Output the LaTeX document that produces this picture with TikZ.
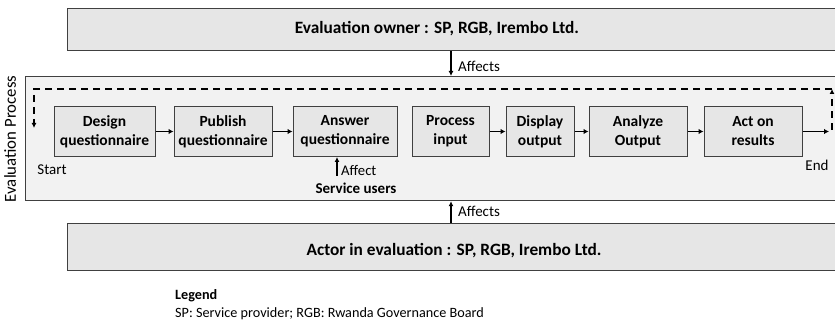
\documentclass[tikz,border=0pt]{standalone}
\usepackage{fontspec}
\setmainfont{Carlito}
\usetikzlibrary{arrows.meta}
\definecolor{boxfill}{HTML}{E6E6E6}
\definecolor{panelfill}{HTML}{F2F2F2}
\definecolor{edge}{HTML}{404040}

\begin{document}
\begin{tikzpicture}[x=1pt,y=-1pt,
  stepbox/.style={draw=edge, line width=1pt, fill=boxfill, align=center,
    font=\fontsize{15.5}{19}\selectfont\bfseries, inner sep=0pt, minimum height=50},
  band/.style={draw=edge, line width=1.2pt, fill=boxfill, inner sep=0pt, anchor=north west},
  panel/.style={draw=edge, line width=1.2pt, fill=panelfill, inner sep=0pt, anchor=north west},
  flow/.style={line width=1.8pt, -{Latex[length=5pt,width=5.5pt]}},
  influence/.style={line width=1.5pt, -{Latex[length=5pt,width=5pt]}},
  loopline/.style={line width=1.8pt, dash pattern=on 7pt off 5pt},
  bandtext/.style={font=\fontsize{17.3}{20}\selectfont\bfseries},
  small/.style={font=\fontsize{15}{18}\selectfont, inner sep=0pt},
]
\useasboundingbox (0,0) rectangle (835,323);

% upper band: owner
\node[band, minimum width=790, minimum height=42] (owner) at (67,8) {};
\node[bandtext] (ownerlbl) at (437,29) {Evaluation owner : SP, RGB, Irembo Ltd.};

% process panel
\node[panel, minimum width=830, minimum height=124] (proc) at (25,76) {};
\node[rotate=90, font=\fontsize{16.8}{20}\selectfont] (ptitle) at (10,139) {Evaluation Process};

% lower band: actor
\node[band, minimum width=790, minimum height=47] (actor) at (67,223) {};
\node[bandtext] (actorlbl) at (454,251) {Actor in evaluation : SP, RGB, Irembo Ltd.};

% influence arrows between bands and panel
\coordinate (ax) at (451,0);
\draw[influence] (owner.south -| ax) -- (proc.north -| ax);
\node[small, anchor=west] (aff1) at (458,66) {Affects};
\draw[influence] (actor.north -| ax) -- (proc.south -| ax);
\node[small, anchor=west] (aff2) at (458,211) {Affects};

% process steps
\node[stepbox, minimum width=101] (design)  at (104.5,131.5) {Design\\questionnaire};
\node[stepbox, minimum width=98]  (publish) at (223,131.5)   {Publish\\questionnaire};
\node[stepbox, minimum width=104] (answer)  at (345,131.5)   {Answer\\questionnaire};
\node[stepbox, minimum width=77]  (procin)  at (450.5,131.5) {Process\\input};
\node[stepbox, minimum width=68]  (display) at (540,131.5)   {Display\\output};
\node[stepbox, minimum width=98]  (analyze) at (638,131.5)   {Analyze\\Output};
\node[stepbox, minimum width=98]  (act)     at (753,131.5)   {Act on\\results};

\draw[flow] (design) -- (publish);
\draw[flow] (publish) -- (answer);
\draw[flow] (procin) -- (display);
\draw[flow] (display) -- (analyze);
\draw[flow] (analyze) -- (act);
\coordinate (endpt) at (829,131.5);
\draw[flow] (act) -- (endpt);

% feedback loop
\coordinate (loopr) at (832,130);
\coordinate (looptr) at (832,89);
\coordinate (looptl) at (34,89);
\coordinate (startpt) at (34,128);
\draw[loopline, -{Latex[length=5pt,width=5pt]}] (loopr) -- (looptr);
\draw[loopline, -{Latex[length=5pt,width=5pt]}] (looptr) -- (looptl) -- (startpt);

\node[small] (startlbl) at (52,170) {Start};
\node[small] (endlbl) at (817,165) {End};

% service users
\coordinate (su) at (337,176);
\draw[influence] (su) -- (answer.south -| su);
\node[small, font=\fontsize{14.7}{18}\selectfont, anchor=west] (afflbl) at (341,170) {Affect};
\node[small, font=\fontsize{15}{18}\selectfont\bfseries] (users) at (356,188) {Service users};

% legend
\node[small, font=\fontsize{14.2}{17}\selectfont\bfseries, anchor=west] (legend) at (175,296) {Legend};
\node[small, font=\fontsize{14.2}{17}\selectfont, anchor=west] (legtext) at (175,314) {SP: Service provider; RGB: Rwanda Governance Board};
\end{tikzpicture}
\end{document}
